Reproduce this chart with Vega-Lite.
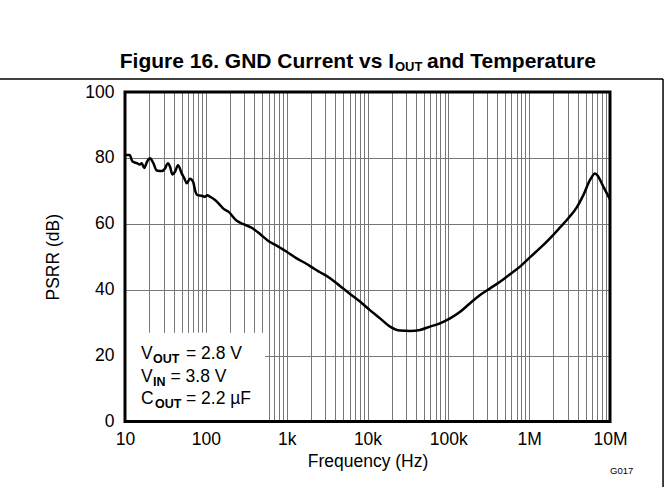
{
  "$schema": "https://vega.github.io/schema/vega-lite/v6.json",
  "autosize": "none",
  "width": 485,
  "height": 329.5,
  "padding": {"left": 125, "top": 92, "right": 59, "bottom": 65.5},
  "background": "white",
  "config": {
    "view": {"stroke": null},
    "font": "Liberation Sans"
  },
  "layer": [
    {
      "data": {
        "values": [
          {"f": 10, "psrr": 80.9}, {"f": 11.4, "psrr": 80.9}, {"f": 12.4, "psrr": 78.9}, {"f": 14.0, "psrr": 78.4},
          {"f": 15.3, "psrr": 78.0}, {"f": 16.1, "psrr": 78.4}, {"f": 17.3, "psrr": 76.9}, {"f": 18.7, "psrr": 78.8},
          {"f": 20.4, "psrr": 79.9}, {"f": 22.4, "psrr": 78.4}, {"f": 24.7, "psrr": 76.2}, {"f": 28.5, "psrr": 76.0},
          {"f": 31.3, "psrr": 76.8}, {"f": 33.8, "psrr": 78.4}, {"f": 36.1, "psrr": 77.3}, {"f": 38.5, "psrr": 75.0},
          {"f": 41.6, "psrr": 75.8}, {"f": 45.3, "psrr": 77.8}, {"f": 50.3, "psrr": 75.3}, {"f": 54.2, "psrr": 73.8},
          {"f": 58.0, "psrr": 72.3}, {"f": 63.7, "psrr": 73.7}, {"f": 69.4, "psrr": 72.8}, {"f": 74.5, "psrr": 69.7},
          {"f": 78.4, "psrr": 68.7}, {"f": 88.9, "psrr": 68.5}, {"f": 97.7, "psrr": 68.2}, {"f": 104, "psrr": 68.7},
          {"f": 113, "psrr": 68.2}, {"f": 130, "psrr": 67.2}, {"f": 150, "psrr": 65.7}, {"f": 165, "psrr": 64.6},
          {"f": 190, "psrr": 63.7}, {"f": 241, "psrr": 60.9}, {"f": 291, "psrr": 59.9}, {"f": 369, "psrr": 58.8},
          {"f": 468, "psrr": 56.9}, {"f": 593, "psrr": 54.8}, {"f": 753, "psrr": 53.4}, {"f": 1000, "psrr": 51.5},
          {"f": 1330, "psrr": 49.5}, {"f": 1770, "psrr": 47.8}, {"f": 2240, "psrr": 46.2}, {"f": 2590, "psrr": 45.3},
          {"f": 3440, "psrr": 43.5}, {"f": 4570, "psrr": 41.1}, {"f": 6080, "psrr": 38.7}, {"f": 8080, "psrr": 36.4},
          {"f": 10700, "psrr": 33.8}, {"f": 14300, "psrr": 31.3}, {"f": 19000, "psrr": 28.8}, {"f": 25200, "psrr": 27.6},
          {"f": 33600, "psrr": 27.5}, {"f": 44600, "psrr": 27.8}, {"f": 59400, "psrr": 28.8}, {"f": 78900, "psrr": 29.8},
          {"f": 105000, "psrr": 31.3}, {"f": 140000, "psrr": 33.3}, {"f": 186000, "psrr": 35.9}, {"f": 247000, "psrr": 38.4},
          {"f": 328000, "psrr": 40.4}, {"f": 436000, "psrr": 42.4}, {"f": 580000, "psrr": 44.7}, {"f": 771000, "psrr": 47.0},
          {"f": 1020000, "psrr": 49.8}, {"f": 1360000, "psrr": 52.6}, {"f": 1810000, "psrr": 55.6}, {"f": 2410000, "psrr": 58.9},
          {"f": 3050000, "psrr": 61.7}, {"f": 3880000, "psrr": 65.0}, {"f": 4680000, "psrr": 68.7}, {"f": 5660000, "psrr": 73.3},
          {"f": 6530000, "psrr": 75.3}, {"f": 7170000, "psrr": 74.3}, {"f": 8270000, "psrr": 71.3}, {"f": 10000000, "psrr": 67.4}
        ]
      },
      "mark": {"type": "line", "color": "black", "strokeWidth": 2.5, "interpolate": "monotone"},
      "encoding": {
        "x": {
          "field": "f", "type": "quantitative",
          "scale": {"type": "log", "domain": [10, 10000000], "nice": false},
          "axis": {
            "title": "Frequency (Hz)",
            "values": [10,20,30,40,50,60,70,80,90,100,200,300,400,500,600,700,800,900,1000,2000,3000,4000,5000,6000,7000,8000,9000,10000,20000,30000,40000,50000,60000,70000,80000,90000,100000,200000,300000,400000,500000,600000,700000,800000,900000,1000000,2000000,3000000,4000000,5000000,6000000,7000000,8000000,9000000,10000000],
            "labelExpr": "datum.value==10?'10':datum.value==100?'100':datum.value==1000?'1k':datum.value==10000?'10k':datum.value==100000?'100k':datum.value==1000000?'1M':datum.value==10000000?'10M':''",
            "labelOverlap": false,
            "labelFlush": false,
            "labelBound": false,
            "ticks": false,
            "domain": false,
            "grid": true,
            "gridColor": "#777777",
            "gridWidth": 1,
            "gridOpacity": 1,
            "labelFont": "Liberation Sans",
            "labelFontSize": 17.5,
            "labelColor": "black",
            "labelPadding": 9,
            "titleFont": "Liberation Sans",
            "titleFontSize": 17.5,
            "titleFontWeight": "normal",
            "titleColor": "black",
            "titleBaseline": "alphabetic",
            "titleY": 45
          }
        },
        "y": {
          "field": "psrr", "type": "quantitative",
          "scale": {"domain": [0, 100], "nice": false, "zero": false},
          "axis": {
            "title": "PSRR (dB)",
            "values": [0, 20, 40, 60, 80, 100],
            "ticks": false,
            "domain": false,
            "grid": true,
            "gridColor": "#777777",
            "gridWidth": 1,
            "gridOpacity": 1,
            "labelFont": "Liberation Sans",
            "labelFontSize": 17.5,
            "labelColor": "black",
            "labelPadding": 11,
            "labelOverlap": false,
            "labelFlush": false,
            "labelBound": false,
            "titleFont": "Liberation Sans",
            "titleFontSize": 17.5,
            "titleFontWeight": "normal",
            "titleColor": "black",
            "titleBaseline": "alphabetic",
            "titleAngle": 270,
            "titleAlign": "center",
            "titleX": -67,
            "titleY": 164.75
          }
        }
      }
    },
    {
      "data": {"values": [{}]},
      "mark": {"type": "rect", "fill": "white", "stroke": null},
      "encoding": {"x": {"datum": 10}, "x2": {"datum": 540}, "y": {"datum": 0}, "y2": {"datum": 26.9}}
    },
    {
      "data": {"values": [{}]},
      "mark": {"type": "text", "align": "left", "baseline": "alphabetic", "fontSize": 17.5, "fill": "black", "text": "V"},
      "encoding": {"x": {"datum": 15.77}, "y": {"datum": 18.9}}
    },
    {
      "data": {"values": [{}]},
      "mark": {"type": "text", "align": "left", "baseline": "alphabetic", "fontSize": 12.5, "fontWeight": "bold", "fill": "black", "text": "OUT", "dx": 12, "dy": 4},
      "encoding": {"x": {"datum": 15.77}, "y": {"datum": 18.9}}
    },
    {
      "data": {"values": [{}]},
      "mark": {"type": "text", "align": "left", "baseline": "alphabetic", "fontSize": 17.5, "fill": "black", "text": "= 2.8 V", "dx": 45},
      "encoding": {"x": {"datum": 15.77}, "y": {"datum": 18.9}}
    },
    {
      "data": {"values": [{}]},
      "mark": {"type": "text", "align": "left", "baseline": "alphabetic", "fontSize": 17.5, "fill": "black", "text": "V"},
      "encoding": {"x": {"datum": 15.77}, "y": {"datum": 12.1}}
    },
    {
      "data": {"values": [{}]},
      "mark": {"type": "text", "align": "left", "baseline": "alphabetic", "fontSize": 12.5, "fontWeight": "bold", "fill": "black", "text": "IN", "dx": 12, "dy": 4},
      "encoding": {"x": {"datum": 15.77}, "y": {"datum": 12.1}}
    },
    {
      "data": {"values": [{}]},
      "mark": {"type": "text", "align": "left", "baseline": "alphabetic", "fontSize": 17.5, "fill": "black", "text": "= 3.8 V", "dx": 29.5},
      "encoding": {"x": {"datum": 15.77}, "y": {"datum": 12.1}}
    },
    {
      "data": {"values": [{}]},
      "mark": {"type": "text", "align": "left", "baseline": "alphabetic", "fontSize": 17.5, "fill": "black", "text": "C"},
      "encoding": {"x": {"datum": 15.77}, "y": {"datum": 5.3}}
    },
    {
      "data": {"values": [{}]},
      "mark": {"type": "text", "align": "left", "baseline": "alphabetic", "fontSize": 12.5, "fontWeight": "bold", "fill": "black", "text": "OUT", "dx": 14, "dy": 4},
      "encoding": {"x": {"datum": 15.77}, "y": {"datum": 5.3}}
    },
    {
      "data": {"values": [{}]},
      "mark": {"type": "text", "align": "left", "baseline": "alphabetic", "fontSize": 17.5, "fill": "black", "text": "= 2.2 µF", "dx": 45},
      "encoding": {"x": {"datum": 15.77}, "y": {"datum": 5.3}}
    },
    {
      "data": {"values": [{}]},
      "mark": {"type": "text", "align": "right", "baseline": "alphabetic", "fontSize": 21, "fontWeight": "bold", "fill": "black", "text": "Figure 16. GND Current vs I"},
      "encoding": {"x": {"datum": 21280}, "y": {"datum": 107.3}}
    },
    {
      "data": {"values": [{}]},
      "mark": {"type": "text", "align": "left", "baseline": "alphabetic", "fontSize": 13, "fontWeight": "bold", "fill": "black", "text": "OUT", "dx": 1, "dy": 3},
      "encoding": {"x": {"datum": 21280}, "y": {"datum": 107.3}}
    },
    {
      "data": {"values": [{}]},
      "mark": {"type": "text", "align": "left", "baseline": "alphabetic", "fontSize": 21, "fontWeight": "bold", "fill": "black", "text": "and Temperature", "dx": 33},
      "encoding": {"x": {"datum": 21280}, "y": {"datum": 107.3}}
    },
    {
      "data": {"values": [{}]},
      "mark": {"type": "text", "align": "left", "baseline": "alphabetic", "fontSize": 9.5, "fill": "black", "text": "G017"},
      "encoding": {"x": {"datum": 10000000}, "y": {"datum": -15.9}}
    },
    {
      "data": {"values": [{}]},
      "mark": {"type": "rule", "color": "black", "strokeWidth": 1.5},
      "encoding": {"x": {"datum": 0.284}, "x2": {"datum": 45300000}, "y": {"datum": 103.95}}
    },
    {
      "data": {"values": [{}]},
      "mark": {"type": "rule", "color": "black", "strokeWidth": 1.5},
      "encoding": {"x": {"datum": 45300000}, "y": {"datum": 103.95}, "y2": {"datum": -20}}
    },
    {
      "data": {"values": [{}]},
      "mark": {"type": "rect", "fill": null, "fillOpacity": 0, "stroke": "black", "strokeWidth": 3},
      "encoding": {"x": {"datum": 10}, "x2": {"datum": 10000000}, "y": {"datum": 0}, "y2": {"datum": 100}}
    }
  ]
}
